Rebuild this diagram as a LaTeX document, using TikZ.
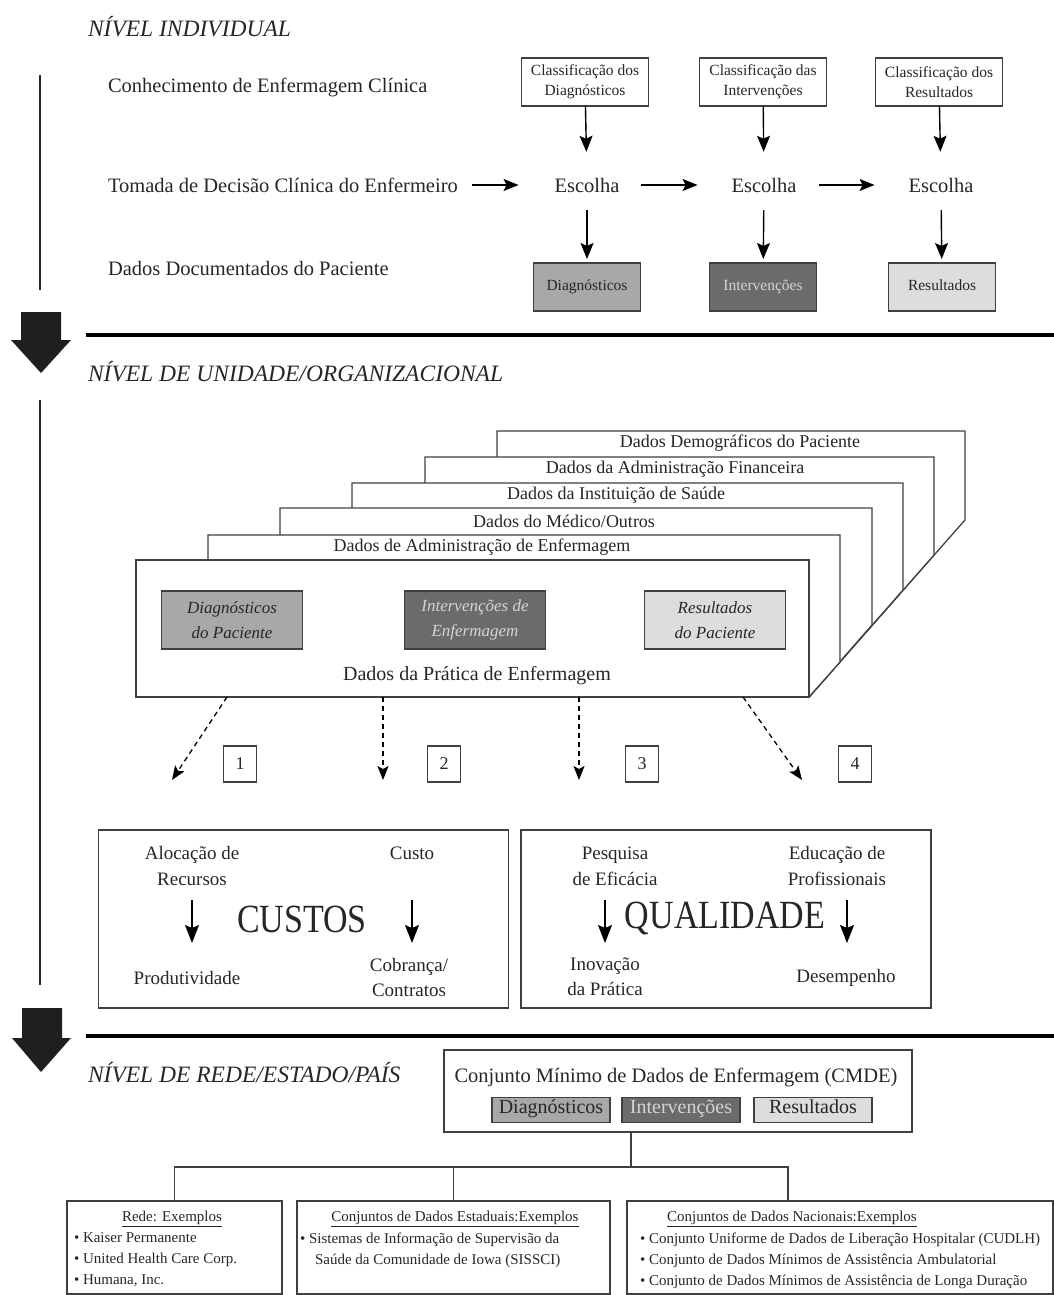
\documentclass[tikz,border=0pt]{standalone}
\usepackage{fontspec}
\setmainfont{Liberation Serif}
\newfontfamily\condfont{Liberation Serif}[FakeStretch=0.85]
\usetikzlibrary{arrows.meta,calc}
\definecolor{ink}{HTML}{262626}
\definecolor{linec}{HTML}{404040}
\definecolor{gmid}{HTML}{A8A8A8}
\definecolor{gdark}{HTML}{6B6B6B}
\definecolor{glight}{HTML}{DDDDDD}
\definecolor{gtext}{HTML}{D4D4D4}
\begin{document}
\begin{tikzpicture}[x=1pt,y=-1pt,
  every node/.style={text=ink, inner sep=0pt, outer sep=0pt},
  level/.style={anchor=base west, font=\itshape\fontsize{23.5}{27}\selectfont},
  rowlbl/.style={anchor=base west, font=\fontsize{20.5}{24}\selectfont},
  choice/.style={anchor=base, font=\fontsize{20.5}{24}\selectfont},
  classbox/.style={draw=linec, line width=1.3pt, fill=white, minimum width=127pt, minimum height=48pt, align=center, font=\fontsize{15.5}{20}\selectfont},
  datbox/.style={draw=linec, line width=1.3pt, minimum width=107pt, minimum height=48pt, text height=1.5ex, text depth=0ex, font=\fontsize{15.5}{18}\selectfont},
  arr/.style={draw=black, line width=1.4pt, -{Stealth[length=16pt,width=13pt,inset=3pt]}},
  harr/.style={draw=black, line width=1.4pt, -{Stealth[length=15pt,width=12pt,inset=3pt]}},
  dasharr/.style={draw=black, line width=1.3pt, dash pattern=on 5pt off 4pt, -{Stealth[length=14pt,width=11pt,inset=3pt]}},
  frame/.style={draw=linec, line width=1.3pt, fill=white},
  flabel/.style={font=\fontsize{18}{22}\selectfont},
  inbox/.style={draw=linec, line width=1.3pt, minimum width=141pt, minimum height=58pt, align=center, font=\itshape\fontsize{17}{25}\selectfont},
  numbox/.style={draw=linec, line width=1.3pt, minimum width=33pt, minimum height=36pt, font=\fontsize{18}{20}\selectfont},
  bigbox/.style={draw=linec, line width=1.3pt, minimum width=410pt, minimum height=178pt},
  item/.style={align=center, font=\fontsize{19}{26}\selectfont},
  bigword/.style={font=\condfont\fontsize{40}{44}\selectfont},
  sarr/.style={draw=black, line width=1.4pt, -{Stealth[length=18pt,width=14pt,inset=3pt]}},
  subbox/.style={draw=linec, line width=1.3pt, minimum width=118pt, minimum height=25pt, text height=1.5ex, text depth=0ex, font=\fontsize{20}{22}\selectfont},
  exbox/.style={draw=linec, line width=1.3pt, minimum height=93pt},
  extitle/.style={font=\fontsize{15}{18}\selectfont},
  exlist/.style={anchor=north west, align=left, font=\fontsize{15}{21}\selectfont},
  tree/.style={draw=linec, line width=1.3pt},
  rule/.style={draw=black, line width=4pt},
  vline/.style={draw=ink, line width=2.5pt},
  bigarrow/.style={fill=black!88}
]
\useasboundingbox (0,0) rectangle (1054,1295);

% ---------- left guide lines and block arrows ----------
\draw[vline] (40,75) -- (40,290);
\fill[bigarrow] (21,312) -- (61,312) -- (61,340) -- (71,340) -- (41,373) -- (11,340) -- (21,340) -- cycle;
\draw[rule] (86,335) -- (1054,335);
\draw[vline] (40,400) -- (40,985);
\fill[bigarrow] (22,1008) -- (62,1008) -- (62,1038) -- (71,1038) -- (41,1072) -- (12,1038) -- (22,1038) -- cycle;
\draw[rule] (86,1036) -- (1054,1036);

% ---------- individual level ----------
\node[level] (lv1) at (88,37) {NÍVEL INDIVIDUAL};
\node[rowlbl] (know) at (108,93) {Conhecimento de Enfermagem Clínica};
\node[rowlbl] (decide) at (108,192) {Tomada de Decisão Clínica do Enfermeiro};
\node[rowlbl] (docdata) at (108,275) {Dados Documentados do Paciente};

\node[classbox] (cd) at (585,82) {Classificação dos\\Diagnósticos};
\node[classbox] (ci) at (763,82) {Classificação das\\Intervenções};
\node[classbox] (cr) at (939,82) {Classificação dos\\Resultados};

\node[choice] (e1) at (587,192) {Escolha};
\node[choice] (e2) at (764,192) {Escolha};
\node[choice] (e3) at (941,192) {Escolha};

\node[datbox, fill=gmid] (dd) at (587,287) {Diagnósticos};
\node[datbox, fill=gdark, text=gtext] (di) at (763,287) {Intervenções};
\node[datbox, fill=glight] (dr) at (942,287) {Resultados};

\draw[arr, shorten >=26pt] (cd) -- (e1);
\draw[arr, shorten >=26pt] (ci) -- (e2);
\draw[arr, shorten >=26pt] (cr) -- (e3);
\draw[arr, shorten <=18pt, shorten >=4pt] (e1) -- (dd);
\draw[arr, shorten <=18pt, shorten >=4pt] (e2) -- (di);
\draw[arr, shorten <=18pt, shorten >=4pt] (e3) -- (dr);
\draw[harr, shorten <=14pt, shorten >=36pt] (decide.east |- e1) -- (e1.west);
\draw[harr, shorten <=22pt, shorten >=34pt] (e1.east) -- (e2.west);
\draw[harr, shorten <=23pt, shorten >=34pt] (e2.east) -- (e3.west);

% ---------- unit / organizational level ----------
\node[level] (lv2) at (88,381) {NÍVEL DE UNIDADE/ORGANIZACIONAL};

\filldraw[frame] (497,431) -- (965,431) -- (965,520) -- (809,697) -- (497,697) -- cycle;
\filldraw[frame] (425,457) -- (934,457) -- (934,555) -- (809,697) -- (425,697) -- cycle;
\filldraw[frame] (352,483) -- (903,483) -- (903,590) -- (809,697) -- (352,697) -- cycle;
\filldraw[frame] (280,508) -- (872,508) -- (872,625) -- (809,697) -- (280,697) -- cycle;
\filldraw[frame] (208,535) -- (840,535) -- (840,662) -- (809,697) -- (208,697) -- cycle;
\node[frame, minimum width=673pt, minimum height=137pt] (pract) at (472.5,628.5) {};

\node[flabel] (f6) at (740,443) {Dados Demográficos do Paciente};
\node[flabel] (f5) at (675,469) {Dados da Administração Financeira};
\node[flabel] (f4) at (616,495) {Dados da Instituição de Saúde};
\node[flabel] (f3) at (564,521) {Dados do Médico/Outros};
\node[flabel] (f2) at (482,547) {Dados de Administração de Enfermagem};

\node[inbox, fill=gmid] (pd) at (232,620) {Diagnósticos\\do Paciente};
\node[inbox, fill=gdark, text=gtext] (pi) at (475,620) {Intervenções de\\Enfermagem};
\node[inbox, fill=glight] (pr) at (715,620) {Resultados\\do Paciente};
\node[font=\fontsize{20}{24}\selectfont] (practlbl) at (477,676) {Dados da Prática de Enfermagem};

\coordinate (s1) at (227,697);
\coordinate (s2) at (383,697);
\coordinate (s3) at (579,697);
\coordinate (s4) at (743,697);
\coordinate (t1) at (172,780);
\coordinate (t2) at (383,780);
\coordinate (t3) at (579,780);
\coordinate (t4) at (802,780);
\draw[dasharr] (s1) -- (t1);
\draw[dasharr] (s2) -- (t2);
\draw[dasharr] (s3) -- (t3);
\draw[dasharr] (s4) -- (t4);

\node[numbox] (n1) at (240,764) {1};
\node[numbox] (n2) at (444,764) {2};
\node[numbox] (n3) at (642,764) {3};
\node[numbox] (n4) at (855,764) {4};

% costs
\node[bigbox] (costs) at (303.5,919) {};
\node[item] (aloc) at (192,866) {Alocação de\\Recursos};
\node[item] (custo) at (412,853) {Custo};
\node[item] (prod) at (187,978) {Produtividade};
\node[item, font=\fontsize{19}{25}\selectfont] (cobr) at (409,977) {Cobrança/\\Contratos};
\node[bigword] (cw) at (302,919) {CUSTOS};
\draw[sarr] (aloc.south |- 0,900) -- (aloc.south |- 0,943);
\draw[sarr] (custo.south |- 0,900) -- (custo.south |- 0,943);

% quality
\node[bigbox] (qual) at (726,919) {};
\node[item] (pesq) at (615,866) {Pesquisa\\de Eficácia};
\node[item] (educ) at (837,866) {Educação de\\Profissionais};
\node[item, font=\fontsize{19}{25}\selectfont] (inov) at (605,977) {Inovação\\da Prática};
\node[item] (desemp) at (846,978) {Desempenho};
\node[bigword] (qw) at (725,918) {QUALIDADE};
\draw[sarr] (605,900) -- (605,943);
\draw[sarr] (847,900) -- (847,943);

% ---------- network / state / country ----------
\node[level] (lv3) at (88,1082) {NÍVEL DE REDE/ESTADO/PAÍS};

\node[draw=linec, line width=1.3pt, minimum width=468pt, minimum height=82pt] (cmde) at (678,1091) {};
\node[font=\fontsize{20.5}{24}\selectfont] (cmdet) at (676,1077) {Conjunto Mínimo de Dados de Enfermagem (CMDE)};
\node[subbox, fill=gmid] (cmd) at (551,1110) {Diagnósticos};
\node[subbox, fill=gdark, text=gtext] (cmi) at (681,1110) {Intervenções};
\node[subbox, fill=glight] (cmr) at (813,1110) {Resultados};

\node[exbox, minimum width=215pt] (rede) at (174.5,1247.5) {};
\node[exbox, minimum width=313pt] (state) at (453.5,1247.5) {};
\node[exbox, minimum width=426pt] (nat) at (840,1247.5) {};

\coordinate (tj) at (631,1167);
\coordinate (tl) at (174.5,1167);
\coordinate (tr) at (788,1167);
\draw[tree] (cmde.south -| tj) -- (tj);
\draw[tree] (rede.north) -- (tl) -- (tr) -- (tr |- nat.north);
\draw[tree] (state.north) -- (state.north |- tj);

\node[extitle] (redet) at (172,1219) {\underline{Rede: Exemplos}};
\node[extitle] (statet) at (455,1219) {\underline{Conjuntos de Dados Estaduais:Exemplos}};
\node[extitle] (natt) at (792,1219) {\underline{Conjuntos de Dados Nacionais:Exemplos}};

\node[exlist] (redel) at (74,1233) {• Kaiser Permanente\\• United Health Care Corp.\\• Humana, Inc.};
\node[exlist] (statel) at (300,1233) {• Sistemas de Informação de Supervisão da\\\hspace*{15pt}Saúde da Comunidade de Iowa (SISSCI)};
\node[exlist] (natl) at (640,1233) {• Conjunto Uniforme de Dados de Liberação Hospitalar (CUDLH)\\• Conjunto de Dados Mínimos de Assistência Ambulatorial\\• Conjunto de Dados Mínimos de Assistência de Longa Duração};
\end{tikzpicture}
\end{document}
